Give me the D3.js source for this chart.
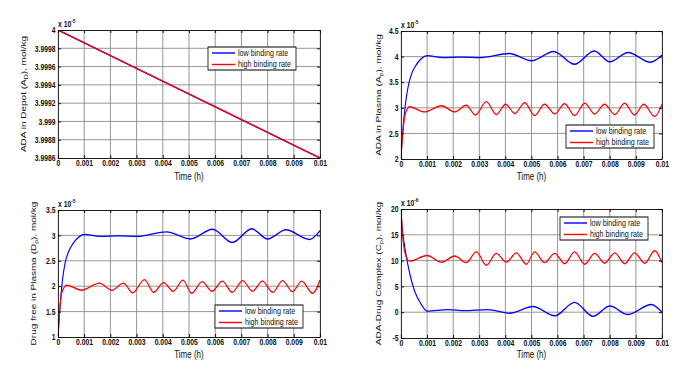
<!DOCTYPE html>
<html>
<head>
<meta charset="utf-8">
<script src="https://cdnjs.cloudflare.com/ajax/libs/d3/7.8.5/d3.min.js"></script>
<style>
  body { margin: 0; background: #fff; }
  text { font-family: "Liberation Sans", Arial, sans-serif; }
</style>
</head>
<body>
<script>
// ---- data (time in h, values in axis units) ----
var timeTicks = [0, 0.001, 0.002, 0.003, 0.004, 0.005, 0.006, 0.007, 0.008, 0.009, 0.01];
var seriesNames = ["low binding rate", "high binding rate"];

// ADA in depot
var depotTime = [0, 0.01];
var depotLow = [4.0, 3.9986];
var depotHigh = [4.0, 3.9986];
var depotTicks = [3.9986, 3.9988, 3.999, 3.9992, 3.9994, 3.9996, 3.9998, 4];

// ADA in plasma
var adaLowTime = [0, 0.000077, 0.000166, 0.000268, 0.000396, 0.000587, 0.000779, 0.001, 0.0016, 0.0023, 0.003, 0.00415, 0.005, 0.00585, 0.00665, 0.0074, 0.008, 0.0087, 0.00955, 0.01];
var adaLow = [2.05, 2.6, 3.06, 3.4, 3.65, 3.84, 3.96, 4.02, 3.98, 3.99, 3.98, 4.06, 3.92, 4.1, 3.85, 4.11, 3.9, 4.08, 3.89, 4.03];
var adaHighTime = [0, 0.00007, 0.00015, 0.00033, 0.0009, 0.00155, 0.00206, 0.0025, 0.00285, 0.00327, 0.00365, 0.00401, 0.00436, 0.00474, 0.00512, 0.0055, 0.00589, 0.00627, 0.00665, 0.00704, 0.00742, 0.0078, 0.00819, 0.00857, 0.00895, 0.0093, 0.00972, 0.01];
var adaHigh = [2.05, 2.5, 2.85, 3.02, 2.92, 3.04, 2.92, 3.05, 2.86, 3.12, 2.87, 3.07, 2.89, 3.1, 2.85, 3.07, 2.88, 3.08, 2.85, 3.09, 2.88, 3.07, 2.87, 3.09, 2.86, 3.07, 2.83, 3.07];
var adaTicks = [2, 2.5, 3, 3.5, 4, 4.5];

// drug free in plasma
var drugLowTime = [0, 0.000077, 0.000166, 0.000268, 0.000396, 0.000587, 0.000779, 0.001, 0.0016, 0.0023, 0.003, 0.00415, 0.00505, 0.0059, 0.00665, 0.0074, 0.008, 0.0087, 0.0096, 0.01];
var drugLow = [1.0, 1.6, 2.1, 2.45, 2.67, 2.85, 2.96, 3.02, 2.98, 2.99, 2.98, 3.07, 2.93, 3.12, 2.86, 3.13, 2.93, 3.11, 2.92, 3.09];
var drugHighTime = [0, 0.00007, 0.00015, 0.00033, 0.0009, 0.00158, 0.00206, 0.0025, 0.00285, 0.0033, 0.00365, 0.00403, 0.0044, 0.00477, 0.0051, 0.0055, 0.00588, 0.00627, 0.00665, 0.00705, 0.00742, 0.0078, 0.0082, 0.00857, 0.00895, 0.0093, 0.00972, 0.01];
var drugHigh = [1.0, 1.55, 1.88, 2.02, 1.92, 2.06, 1.92, 2.06, 1.87, 2.13, 1.88, 2.07, 1.9, 2.12, 1.86, 2.09, 1.9, 2.1, 1.88, 2.11, 1.9, 2.1, 1.88, 2.11, 1.89, 2.1, 1.86, 2.12];
var drugTicks = [1, 1.5, 2, 2.5, 3, 3.5];

// ADA-drug complex
var cplxLowTime = [0, 0.00004, 0.00014, 0.00033, 0.00052, 0.00078, 0.001, 0.0018, 0.00244, 0.00333, 0.00416, 0.00506, 0.00589, 0.00665, 0.00736, 0.008, 0.0087, 0.00959, 0.01];
var cplxLow = [20, 16.7, 12.8, 7.6, 4.1, 1.5, 0.2, 0.5, 0.3, 0.5, -0.2, 1.1, -0.7, 1.9, -0.8, 1.2, -0.45, 1.5, 0.0];
var cplxHighTime = [0, 0.00006, 0.00015, 0.00033, 0.001, 0.00155, 0.00206, 0.0025, 0.00289, 0.00327, 0.00365, 0.00404, 0.00442, 0.0048, 0.00512, 0.0055, 0.00589, 0.00627, 0.00665, 0.00704, 0.00742, 0.0078, 0.00819, 0.00857, 0.00895, 0.00934, 0.00972, 0.01];
var cplxHigh = [20, 15, 11.5, 9.9, 11.0, 9.7, 10.9, 9.6, 11.7, 9.1, 11.4, 9.7, 11.5, 9.3, 11.7, 9.6, 11.4, 9.4, 11.7, 9.3, 11.4, 9.5, 11.5, 9.4, 11.5, 9.5, 11.9, 9.6];
var cplxTicks = [-5, 0, 5, 10, 15, 20];

// ---- layout ----
// the source figure is squeezed horizontally, so draw in a wider space
var SX = 0.8;
var W = 681, H = 369;
var colors = ["#0000ff", "#ff0000"];

var svg = d3.select("body").append("svg")
  .attr("width", W)
  .attr("height", H)
  .attr("viewBox", "0 0 " + (W / SX) + " " + H)
  .attr("preserveAspectRatio", "none");

var panels = [
  { left: 58, right: 320, top: 30, bottom: 158, times: [depotTime, depotTime], values: [depotLow, depotHigh],
    yTicks: depotTicks, label: ["ADA in Depot (A", "D", "), mol/kg"], labelX: 25.5, exp: "-5", legend: [208, 47], titleY: 180 },
  { left: 401, right: 662, top: 31, bottom: 159, times: [adaLowTime, adaHighTime], values: [adaLow, adaHigh],
    yTicks: adaTicks, label: ["ADA in Plasma (A", "p", "), mol/kg"], labelX: 380.5, exp: "-5", legend: [566, 125], titleY: 180 },
  { left: 58, right: 320, top: 210, bottom: 337, times: [drugLowTime, drugHighTime], values: [drugLow, drugHigh],
    yTicks: drugTicks, label: ["Drug free in Plasma (D", "p", "), mol/kg"], labelX: 35.5, exp: "-5", legend: [215, 305], titleY: 358 },
  { left: 401, right: 662, top: 209, bottom: 338, times: [cplxLowTime, cplxHighTime], values: [cplxLow, cplxHigh],
    yTicks: cplxTicks, label: ["ADA-Drug Complex (C", "p", "), mol/kg"], labelX: 381, exp: "-6", legend: [560, 217], titleY: 358 }
];

function drawPanel(p, i) {
  var g = svg.append("g");
  var x0 = p.left / SX, x1 = p.right / SX;

  var x = d3.scaleLinear().domain([0, 0.01]).range([x0, x1]);
  var y = d3.scaleLinear()
    .domain([p.yTicks[0], p.yTicks[p.yTicks.length - 1]])
    .range([p.bottom, p.top]);

  // grid
  g.selectAll(".vgrid")
    .data(timeTicks.slice(1, -1))
    .enter()
    .append("line")
    .attr("x1", d => x(d)).attr("x2", d => x(d))
    .attr("y1", p.top).attr("y2", p.bottom)
    .attr("stroke", "#8a8a8a").attr("stroke-width", 1);

  g.selectAll(".hgrid")
    .data(p.yTicks.slice(1, -1))
    .enter()
    .append("line")
    .attr("x1", x0).attr("x2", x1)
    .attr("y1", d => y(d)).attr("y2", d => y(d))
    .attr("stroke", "#8a8a8a").attr("stroke-width", 1);

  // curves
  g.append("clipPath").attr("id", "clip" + i)
    .append("rect")
    .attr("x", x0).attr("y", p.top)
    .attr("width", x1 - x0).attr("height", p.bottom - p.top);

  var line = d3.line()
    .x(d => x(d[0]))
    .y(d => y(d[1]))
    .curve(d3.curveMonotoneX);

  p.values.forEach(function(vals, k) {
    var pts = vals.map((v, j) => [p.times[k][j], v]);
    g.append("path")
      .datum(pts)
      .attr("clip-path", "url(#clip" + i + ")")
      .attr("d", line)
      .attr("fill", "none")
      .attr("stroke", colors[k])
      .attr("stroke-width", 1.4);
  });

  // axes, ticks pointing inwards on all sides
  var bottomAxis = d3.axisBottom(x).tickValues(timeTicks).tickSize(-3).tickSizeOuter(0).tickPadding(2)
    .tickFormat(d => String(d));
  var topAxis = d3.axisTop(x).tickValues(timeTicks).tickSize(-3).tickSizeOuter(0).tickFormat("");
  var leftAxis = d3.axisLeft(y).tickValues(p.yTicks).tickSize(-3 / SX).tickSizeOuter(0).tickPadding(2.5 / SX)
    .tickFormat(d => String(d));
  var rightAxis = d3.axisRight(y).tickValues(p.yTicks).tickSize(-3 / SX).tickSizeOuter(0).tickFormat("");

  g.append("g").attr("transform", `translate(0, ${p.bottom})`).call(bottomAxis);
  g.append("g").attr("transform", `translate(0, ${p.top})`).call(topAxis);
  g.append("g").attr("transform", `translate(${x0}, 0)`).call(leftAxis);
  g.append("g").attr("transform", `translate(${x1}, 0)`).call(rightAxis);

  g.selectAll(".tick text")
    .attr("font-family", "'Liberation Sans', Arial, sans-serif")
    .attr("font-size", "8.5px")
    .attr("font-weight", "bold")
    .attr("fill", "#111");
  g.selectAll(".domain, .tick line").attr("stroke", "#000");

  // x 10^n multiplier
  var ex = g.append("text")
    .attr("x", x0)
    .attr("y", p.top - 3)
    .attr("font-size", "8.5px")
    .attr("font-weight", "bold")
    .attr("fill", "#111");
  ex.append("tspan").text("x 10");
  ex.append("tspan").attr("dy", -4).attr("font-size", "6px").text(p.exp);

  // axis titles
  g.append("text")
    .attr("x", (x0 + x1) / 2)
    .attr("y", p.titleY)
    .attr("text-anchor", "middle")
    .attr("font-size", "10px")
    .attr("fill", "#111")
    .text("Time (h)");

  var yl = g.append("text")
    .attr("transform", `translate(${p.labelX / SX}, ${(p.top + p.bottom) / 2}) rotate(-90)`)
    .attr("text-anchor", "middle")
    .attr("font-size", "10px")
    .attr("fill", "#111");
  yl.append("tspan").text(p.label[0]);
  yl.append("tspan").attr("dy", 3).attr("font-size", "7px").text(p.label[1]);
  yl.append("tspan").attr("dy", -3).text(p.label[2]);

  // legend
  var lx = p.legend[0], ly = p.legend[1];
  var lg = g.append("g");
  lg.append("rect")
    .attr("x", lx / SX).attr("y", ly)
    .attr("width", 88 / SX).attr("height", 23)
    .attr("fill", "#fff").attr("stroke", "#000").attr("stroke-width", 1);

  seriesNames.forEach(function(name, k) {
    var ry = ly + 6 + k * 11.5;
    lg.append("line")
      .attr("x1", (lx + 4) / SX).attr("x2", (lx + 27) / SX)
      .attr("y1", ry).attr("y2", ry)
      .attr("stroke", colors[k]).attr("stroke-width", 1.4);
    lg.append("text")
      .attr("x", (lx + 30) / SX)
      .attr("y", ry + 3)
      .attr("font-size", "9px")
      .attr("fill", "#111")
      .text(name);
  });
}

panels.forEach(drawPanel);
</script>
</body>
</html>
